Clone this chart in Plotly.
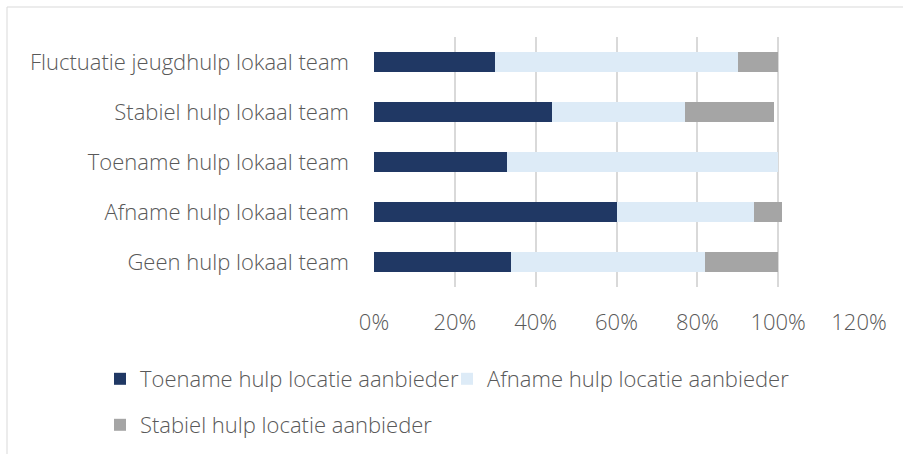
import plotly.graph_objects as go

categories = [
    "Fluctuatie jeugdhulp lokaal team",
    "Stabiel hulp lokaal team",
    "Toename hulp lokaal team",
    "Afname hulp lokaal team",
    "Geen hulp lokaal team",
]
toename = [0.30, 0.44, 0.33, 0.60, 0.34]
afname = [0.60, 0.33, 0.67, 0.34, 0.48]
stabiel = [0.10, 0.22, 0.00, 0.07, 0.18]
series_names = [
    "Toename hulp locatie aanbieder",
    "Afname hulp locatie aanbieder",
    "Stabiel hulp locatie aanbieder",
]
colors = ["#203864", "#DDEBF7", "#A5A5A5"]
tick_vals = [0, 0.2, 0.4, 0.6, 0.8, 1.0, 1.2]
tick_text = ["0%", "20%", "40%", "60%", "80%", "100%", "120%"]

FONT = "Open Sans"
FS = 22
TXT = "#595959"
fnt = dict(family=FONT, size=FS, color=TXT, weight=300)

fig = go.Figure()
for name, vals, col, lg in zip(series_names, [toename, afname, stabiel], colors,
                               ["legend", "legend2", "legend3"]):
    fig.add_trace(go.Bar(
        y=categories, x=vals, name=name, orientation="h",
        marker=dict(color=col, line=dict(width=0)),
        legend=lg,
    ))

W, H = 903, 454
L, R, T, B = 374, 44, 37, 167


def leg(xpx, ypx):
    return dict(orientation="h", xref="container", yref="container",
                x=xpx / W, y=1 - ypx / H, xanchor="left", yanchor="middle",
                font=fnt, bgcolor="rgba(0,0,0,0)", itemclick=False,
                itemdoubleclick=False)


fig.update_layout(
    width=W, height=H,
    barmode="stack", bargap=0.6,
    plot_bgcolor="white", paper_bgcolor="white",
    margin=dict(l=L, r=R, t=T, b=B, autoexpand=False),
    font=fnt,
    xaxis=dict(range=[0, 1.2], tickvals=tick_vals, ticktext=tick_text,
               showgrid=True, gridcolor="#D9D9D9", gridwidth=1.5,
               zeroline=False, showline=False, ticks="",
               ticklabelstandoff=20, fixedrange=True),
    yaxis=dict(autorange="reversed", showgrid=False, zeroline=False,
               showline=False, ticks="", ticklabelstandoff=24),
    legend=leg(100, 379),
    legend2=leg(447, 379),
    legend3=leg(100, 425),
    showlegend=True,
)

pw = W - L - R
ph = H - T - B
fig.add_shape(type="rect", xref="paper", yref="paper",
              x0=(7 - L) / pw, x1=(W + 20 - L) / pw,
              y0=(H - B - (H + 20)) / ph, y1=(H - B - 7) / ph,
              line=dict(color="#D9D9D9", width=1), fillcolor="rgba(0,0,0,0)",
              layer="below")

fig.write_html("out.html", config={"displayModeBar": False},
               post_script="document.body.style.margin='0';")
